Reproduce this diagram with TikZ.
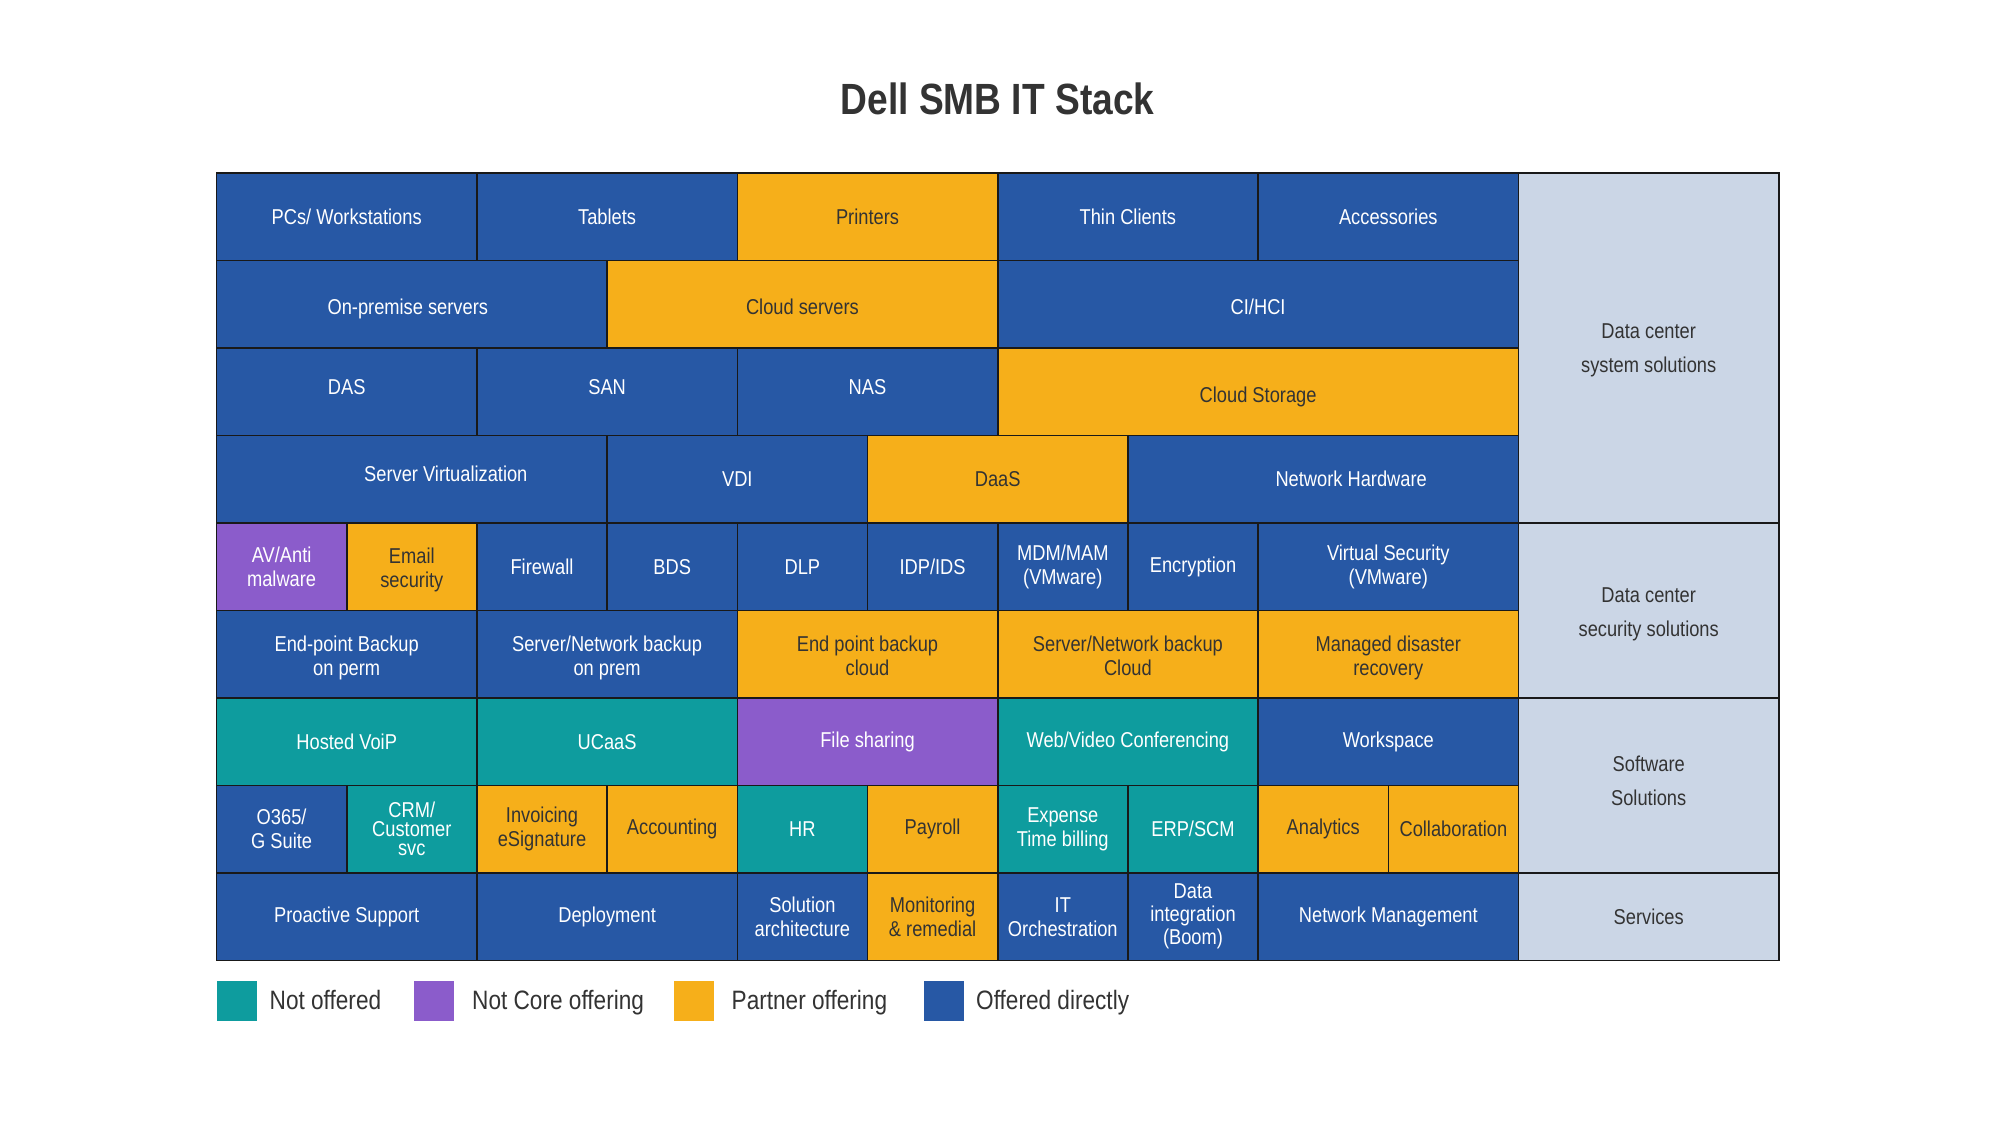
\documentclass[tikz,border=0pt]{standalone}
\usepackage{fontspec}
\setmainfont[FakeStretch=0.85]{Liberation Sans}
\definecolor{cblue}{HTML}{2758A5}
\definecolor{corange}{HTML}{F6AF1A}
\definecolor{cteal}{HTML}{0E9C9E}
\definecolor{cpurple}{HTML}{8B5CCB}
\definecolor{cside}{HTML}{CBD6E6}
\definecolor{cdark}{HTML}{333333}
\newcommand\cellbox[6]{\node[cellbase,#5,minimum width={(#3-#2)*130.2pt},minimum height=87.5pt] (#1) at ({216.5+#2*130.2},{173+#4*87.5}) {#6};}
\newcommand\vmove[2]{\raisebox{#1}[\height][\depth]{\begin{tabular}{@{}c@{}}#2\end{tabular}}}
\begin{document}
\begin{tikzpicture}[x=1pt,y=-1pt,
  cellbase/.style={anchor=north west,draw=black!90,line width=1.6pt,inner sep=0pt,outer sep=0pt,align=center,font=\fontsize{21.5}{24}\selectfont},
  blu/.style={fill=cblue,text=white},
  ora/.style={fill=corange,text=cdark},
  tea/.style={fill=cteal,text=white},
  pur/.style={fill=cpurple,text=white},
  side/.style={fill=cside,text=cdark,font=\fontsize{21.5}{34}\selectfont},
  legsq/.style={anchor=north west,minimum width=40pt,minimum height=40pt,inner sep=0pt,outer sep=0pt},
  legtxt/.style={anchor=base west,inner sep=0pt,text=cdark,font=\fontsize{26.6}{30}\selectfont}]
\useasboundingbox (0,0) rectangle (1995,1126);
\fill[white] (0,0) rectangle (1995,1126);
\node[text=cdark,font=\fontsize{43.7}{50}\selectfont\bfseries] (title) at (997.5,99) {Dell SMB IT Stack};
% row 0
\cellbox{pcs}{0}{2}{0}{blu}{PCs/ Workstations}
\cellbox{tab}{2}{4}{0}{blu}{Tablets}
\cellbox{prn}{4}{6}{0}{ora}{Printers}
\cellbox{thin}{6}{8}{0}{blu}{Thin Clients}
\cellbox{acc}{8}{10}{0}{blu}{Accessories}
% row 1
\cellbox{onp}{0}{3}{1}{blu}{\vmove{-5pt}{\hspace*{-8pt}On-premise servers}}
\cellbox{cls}{3}{6}{1}{ora}{\vmove{-5pt}{Cloud servers}}
\cellbox{ci}{6}{10}{1}{blu}{\vmove{-5pt}{CI/HCI}}
% row 2
\cellbox{das}{0}{2}{2}{blu}{\vmove{2pt}{DAS}}
\cellbox{san}{2}{4}{2}{blu}{\vmove{2pt}{SAN}}
\cellbox{nas}{4}{6}{2}{blu}{\vmove{2pt}{NAS}}
\cellbox{cst}{6}{10}{2}{ora}{\vmove{-6pt}{Cloud Storage}}
% row 3
\cellbox{sv}{0}{3}{3}{blu}{\vmove{2.5pt}{\hspace*{68pt}Server Virtualization}}
\cellbox{vdi}{3}{5}{3}{blu}{VDI}
\cellbox{daas}{5}{7}{3}{ora}{DaaS}
\cellbox{nh}{7}{10}{3}{blu}{\hspace*{56pt}Network Hardware}
% row 4
\cellbox{av}{0}{1}{4}{pur}{AV/Anti\\malware}
\cellbox{em}{1}{2}{4}{ora}{\vmove{-4pt}{Email\\security}}
\cellbox{fw}{2}{3}{4}{blu}{Firewall}
\cellbox{bds}{3}{4}{4}{blu}{BDS}
\cellbox{dlp}{4}{5}{4}{blu}{DLP}
\cellbox{idp}{5}{6}{4}{blu}{IDP/IDS}
\cellbox{mdm}{6}{7}{4}{blu}{MDM/MAM\\(VMware)}
\cellbox{enc}{7}{8}{4}{blu}{Encryption}
\cellbox{vs}{8}{10}{4}{blu}{Virtual Security\\(VMware)}
% row 5
\cellbox{epb}{0}{2}{5}{blu}{\vmove{-4.5pt}{End-point Backup\\on perm}}
\cellbox{snb}{2}{4}{5}{blu}{\vmove{-4.5pt}{Server/Network backup\\on prem}}
\cellbox{epc}{4}{6}{5}{ora}{\vmove{-4.5pt}{End point backup\\cloud}}
\cellbox{snc}{6}{8}{5}{ora}{\vmove{-4.5pt}{Server/Network backup\\Cloud}}
\cellbox{mdr}{8}{10}{5}{ora}{\vmove{-4.5pt}{Managed disaster\\recovery}}
% row 6
\cellbox{voip}{0}{2}{6}{tea}{Hosted VoiP}
\cellbox{ucaas}{2}{4}{6}{tea}{UCaaS}
\cellbox{fs}{4}{6}{6}{pur}{File sharing}
\cellbox{web}{6}{8}{6}{tea}{Web/Video Conferencing}
\cellbox{ws}{8}{10}{6}{blu}{Workspace}
% row 7
\cellbox{o365}{0}{1}{7}{blu}{O365/\\G Suite}
\cellbox{crm}{1}{2}{7}{tea,font=\fontsize{21.5}{19}\selectfont}{CRM/\\Customer\\svc}
\cellbox{inv}{2}{3}{7}{ora}{Invoicing\\eSignature}
\cellbox{acct}{3}{4}{7}{ora}{Accounting}
\cellbox{hr}{4}{5}{7}{tea}{HR}
\cellbox{pay}{5}{6}{7}{ora}{Payroll}
\cellbox{exp}{6}{7}{7}{tea}{Expense\\Time billing}
\cellbox{erp}{7}{8}{7}{tea}{ERP/SCM}
\cellbox{ana}{8}{9}{7}{ora}{Analytics}
\cellbox{col}{9}{10}{7}{ora}{Collaboration}
% row 8
\cellbox{pro}{0}{2}{8}{blu}{Proactive Support}
\cellbox{dep}{2}{4}{8}{blu}{Deployment}
\cellbox{sol}{4}{5}{8}{blu}{Solution\\architecture}
\cellbox{mon}{5}{6}{8}{ora}{Monitoring\\\& remedial}
\cellbox{ito}{6}{7}{8}{blu}{IT\\Orchestration}
\cellbox{dat}{7}{8}{8}{blu,font=\fontsize{21.5}{23}\selectfont}{Data\\integration\\(Boom)}
\cellbox{nm}{8}{10}{8}{blu}{Network Management}
% side column
\node[cellbase,side,minimum width=260.4pt,minimum height=350pt] (s1) at ({216.5+10*130.2},173) {\vmove{-1pt}{Data center\\system solutions}};
\node[cellbase,side,minimum width=260.4pt,minimum height=175pt] (s2) at ({216.5+10*130.2},{173+4*87.5}) {\vmove{-2pt}{Data center\\security solutions}};
\node[cellbase,side,minimum width=260.4pt,minimum height=175pt] (s3) at ({216.5+10*130.2},{173+6*87.5}) {\vmove{4pt}{Software\\Solutions}};
\node[cellbase,side,minimum width=260.4pt,minimum height=87.5pt] (s4) at ({216.5+10*130.2},{173+8*87.5}) {Services};
% legend
\node[legsq,fill=cteal] (l1) at (216.5,981) {};
\node[legtxt] (t1) at (269.5,1009.5) {Not offered};
\node[legsq,fill=cpurple] (l2) at (413.5,981) {};
\node[legtxt] (t2) at (472,1009.5) {Not Core offering};
\node[legsq,fill=corange] (l3) at (674,981) {};
\node[legtxt] (t3) at (731.5,1009.5) {Partner offering};
\node[legsq,fill=cblue] (l4) at (924,981) {};
\node[legtxt] (t4) at (976,1009.5) {Offered directly};
\end{tikzpicture}
\end{document}
